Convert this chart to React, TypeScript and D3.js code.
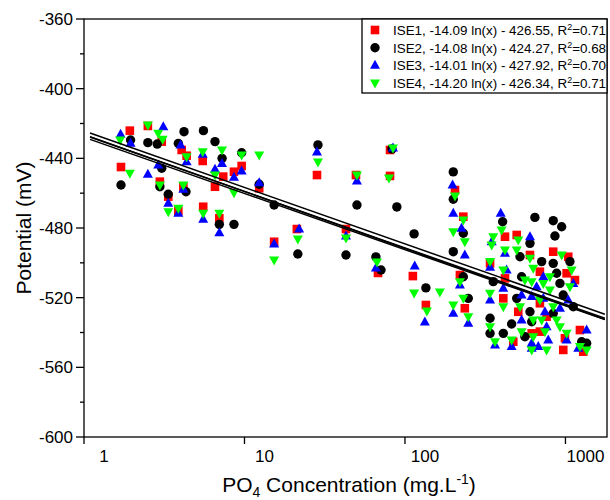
import React from 'react';
import * as d3 from 'd3';

const xTicks = [1, 10, 100, 1000];
const yTicks = [-360, -400, -440, -480, -520, -560, -600];
const yMinorTicks = [-380, -420, -460, -500, -540, -580];

const seriesNames = ['ISE1', 'ISE2', 'ISE3', 'ISE4'];
const fitSlopes = [-14.09, -14.08, -14.01, -14.2];
const fitIntercepts = [-426.55, -424.27, -427.92, -426.34];
const fitR2 = ['0.71', '0.68', '0.70', '0.71'];
const fitXRange = [1.09, 1760];

const ise1: [number, number][] = [
  [1.7, -445], [1.93, -424.1], [2.5, -421.4], [3.05, -430.4], [4.06, -435.2], [4.36, -438.5], [5.49, -441.5],
  [2.97, -453.4], [3.35, -462], [4.16, -456.3], [3.87, -470.1], [5.53, -467.8], [6.97, -474.4], [6.55, -456.3],
  [7.37, -450.5], [8.6, -447.7], [9.6, -444.4], [12.35, -457.2], [15.3, -487.9],
  [21.2, -480.6], [28.3, -449.6], [42.9, -480.6], [49.5, -449.6], [67.9, -505.8], [80.7, -450.1], [80.7, -435.2],
  [112, -507.6], [135, -524.2],
  [205, -458.2], [231, -473.5], [220, -507], [236, -526.1], [420, -485], [497, -484], [601, -495.5], [339, -500.3],
  [420, -508.9], [410, -520.4], [508, -528.1], [473, -545.3], [616, -540.5], [839, -493.6], [1041, -496.5],
  [693, -505.1], [1017, -506], [1146, -509.9], [693, -523.2], [763, -530.9], [693, -539.5], [993, -543.3],
  [969, -550], [1231, -538.6], [1291, -551],
];

const ise2: [number, number][] = [
  [1.95, -429.5], [1.7, -455.3], [2.5, -431], [2.86, -431.8], [4.2, -424.7], [5.55, -424.1], [3.87, -431.4],
  [6.55, -430.4], [7.25, -440], [9.6, -436.8], [3.05, -445.7], [2.97, -456.3], [3.35, -460.6], [4.32, -459.2],
  [6.97, -477.9], [8.6, -477.9], [12.35, -454.9], [15.3, -466.8],
  [21.5, -494.9], [28.7, -432.3], [42.9, -495.5], [50.2, -466.8], [65.9, -496.6], [70.9, -504.1], [83, -434.6],
  [89, -467.9], [114, -483.4], [135, -514.4],
  [200, -447.8], [200, -463.5], [231, -483], [200, -493.6], [231, -508], [248, -520.4], [406, -476.4], [601, -488.8],
  [521, -496.5], [355, -510.8], [533, -508], [497, -520.4], [601, -528.1], [339, -531.8], [339, -540.5], [410, -540.5],
  [462, -535.1], [559, -542.4], [645, -473.9], [839, -475.8], [947, -479.3], [860, -484.6], [711, -499.3],
  [839, -500.3], [1066, -499.3], [881, -506], [924, -511.8], [969, -518.5], [839, -529], [616, -533.8],
  [1262, -545.3], [1355, -546.2], [1119, -525.2],
];

const ise3: [number, number][] = [
  [1.69, -426.2], [1.95, -431.4], [3.12, -421.8], [4.0, -432.3], [4.36, -441.9], [5.49, -437.7], [7.24, -442.9],
  [2.5, -449.2], [2.9, -443.8], [3.35, -465.8], [4.16, -457.8], [3.87, -471.5], [5.53, -475], [6.97, -482.7],
  [6.55, -446.3], [8.6, -450.9], [9.6, -447.3], [12.35, -454], [15.3, -489.2],
  [21.9, -480.6], [28.3, -436.4], [42.9, -484.6], [50.2, -453], [65.9, -503], [84.2, -434.1], [115, -501.8], [133, -534],
  [198, -455.3], [200, -471.6], [225, -480.2], [236, -495.5], [220, -512.7], [200, -529], [248, -534.7], [395, -471.6],
  [347, -487.9], [420, -494.5], [601, -485], [339, -502.6], [430, -504.1], [410, -514.6], [339, -521.3], [533, -518.5],
  [533, -532.8], [462, -548.1], [364, -547.2], [616, -546.2], [728, -508], [1119, -511.8], [661, -513.7], [616, -519.4],
  [728, -520.4], [1041, -521.3], [924, -526.1], [745, -528.1], [763, -536.7], [1017, -544.3], [781, -544.3],
  [677, -548.1], [616, -549.1], [1355, -538.6], [1202, -549.1],
];

const ise4: [number, number][] = [
  [1.68, -429.5], [1.93, -448.6], [2.5, -420.9], [2.9, -425.6], [3.09, -429.1], [4.36, -439.1], [5.49, -436.2],
  [7.24, -435.2], [9.6, -438.1], [12.35, -438.1], [2.97, -455.3], [3.35, -470.6], [4.16, -455.3], [3.87, -468.7],
  [5.53, -471.5], [6.97, -471.5], [6.55, -449.6], [8.6, -459.7], [15.3, -498.4],
  [21.5, -486.3], [28.7, -442.1], [42.9, -485.7], [50.2, -449.6], [66.9, -499.5], [79.5, -451.3], [84.2, -434.1],
  [114, -517.3], [137, -527.7], [165, -516.7],
  [205, -461.6], [231, -475.4], [200, -482.1], [236, -487.9], [220, -510.8], [231, -520.4], [200, -524.2], [248, -530.9],
  [400, -481.1], [355, -485], [347, -489.8], [420, -492.6], [508, -486.9], [497, -492.6], [601, -497.4], [339, -499.3],
  [410, -504.1], [559, -509.9], [339, -517.5], [410, -525.2], [521, -525.2], [339, -536.7], [462, -544.3],
  [364, -545.3], [533, -539.5], [616, -550], [947, -495.5], [1093, -504.1], [630, -503.1], [800, -508],
  [1066, -513.7], [616, -510.8], [728, -511.8], [800, -515.6], [693, -521.3], [839, -525.2], [630, -532.8],
  [711, -532.8], [881, -532.8], [924, -536.7], [745, -539.5], [1017, -540.5], [630, -542.4], [763, -550],
  [1231, -548.1], [1355, -550],
];

const allSeries = [ise1, ise2, ise3, ise4];
const colors = ['#ff0000', '#000000', '#0000ff', '#00ff00'];
const FONT = '"Liberation Sans", Arial, sans-serif';

const L = 84, R = 607, T = 19, B = 437;

function Marker({ kind, x, y, color }: { kind: number; x: number; y: number; color: string }) {
  if (kind === 0) return <rect x={x - 4.3} y={y - 4.3} width={8.6} height={8.6} fill={color} />;
  if (kind === 1) return <circle cx={x} cy={y} r={4.7} fill={color} />;
  if (kind === 2)
    return <path d={`M${x},${y - 5.5}L${x + 5},${y + 3.5}L${x - 5},${y + 3.5}Z`} fill={color} />;
  return <path d={`M${x},${y + 5.5}L${x + 5},${y - 3.5}L${x - 5},${y - 3.5}Z`} fill={color} />;
}

export default function App() {
  const x = d3.scaleLog().domain([1, 1815]).range([L, R]);
  const y = d3.scaleLinear().domain([-600, -360]).range([B, T]);
  const line = d3
    .line<number>()
    .x((v) => x(v))
    .y((v, i, arr) => 0);

  const fitPaths = fitSlopes.map((a, i) => {
    const b = fitIntercepts[i];
    const pts = fitXRange.map((xv) => [x(xv), y(a * Math.log(xv) + b)] as [number, number]);
    return d3.line()(pts) as string;
  });

  const legendRows = [30, 47.7, 65.2, 82.9];

  return (
    <svg width={610} height={500} style={{ position: 'absolute', left: 0, top: 0 }} fontFamily={FONT}>
      <rect x={0} y={0} width={610} height={500} fill="#fff" />
      {/* data */}
      {allSeries.map((s, k) => (
        <g key={k}>
          {s.map((d, i) => (
            <Marker key={i} kind={k} x={x(d[0])} y={y(d[1])} color={colors[k]} />
          ))}
        </g>
      ))}
      {/* fit lines */}
      {fitPaths.map((p, i) => (
        <path key={i} d={p} fill="none" stroke="#000" strokeWidth={1.5} />
      ))}
      {/* frame */}
      <rect x={L} y={T} width={R - L} height={B - T} fill="none" stroke="#000" strokeWidth={1.3} />
      {/* y ticks */}
      {yTicks.map((t) => (
        <g key={t}>
          <line x1={L - 8} x2={L} y1={y(t)} y2={y(t)} stroke="#000" strokeWidth={1.3} />
          <text x={73} y={y(t)} dy="0.36em" textAnchor="end" fontSize={17}>
            {t}
          </text>
        </g>
      ))}
      {yMinorTicks.map((t) => (
        <line key={t} x1={L - 4} x2={L} y1={y(t)} y2={y(t)} stroke="#000" strokeWidth={1.3} />
      ))}
      {/* x ticks */}
      {xTicks.map((t) => (
        <g key={t}>
          <line x1={x(t)} x2={x(t)} y1={B} y2={B + 7} stroke="#000" strokeWidth={1.3} />
          <text x={x(t) + 20} y={462} textAnchor="middle" fontSize={17}>
            {t}
          </text>
        </g>
      ))}
      {/* axis titles */}
      <text x={349} y={492} textAnchor="middle" fontSize={21}>
        PO
        <tspan dy={5} fontSize={14}>4</tspan>
        <tspan dy={-5}> Concentration (mg.L</tspan>
        <tspan dy={-8} fontSize={14}>-1</tspan>
        <tspan dy={8}>)</tspan>
      </text>
      <text transform={`translate(31,${(T + B) / 2}) rotate(-90)`} textAnchor="middle" fontSize={21}>
        Potential (mV)
      </text>
      {/* legend */}
      <rect x={362} y={T} width={R - 362} height={74} fill="#fff" stroke="#000" strokeWidth={1.3} />
      {seriesNames.map((n, i) => (
        <g key={n}>
          <Marker kind={i} x={375} y={legendRows[i]} color={colors[i]} />
          <text x={393} y={legendRows[i]} dy="0.36em" fontSize={13.4}>
            {`${n}, ${fitSlopes[i].toFixed(2)} ln(x) - ${Math.abs(fitIntercepts[i]).toFixed(2)}, R`}
            <tspan dy={-5} fontSize={9}>2</tspan>
            <tspan dy={5}>{`=${fitR2[i]}`}</tspan>
          </text>
        </g>
      ))}
    </svg>
  );
}
